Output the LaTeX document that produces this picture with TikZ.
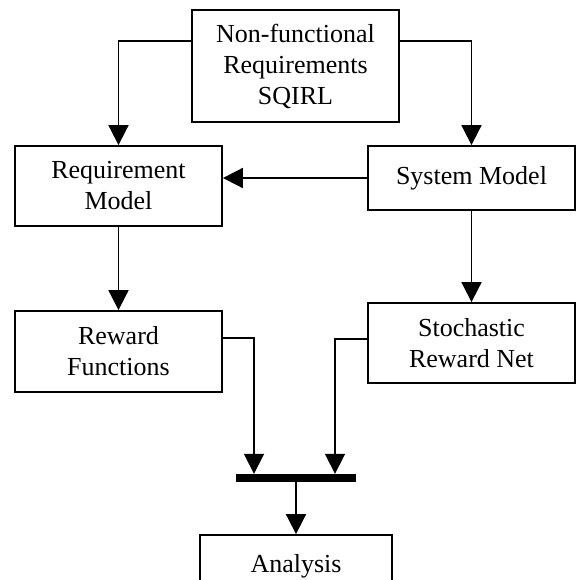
\documentclass[tikz,border=0pt]{standalone}
\usepackage{fontspec}
\setmainfont{Liberation Serif}
\usetikzlibrary{arrows.meta}
\begin{document}
\begin{tikzpicture}[x=1pt,y=-1pt,
  box/.style={draw, line width=1.8pt, rectangle, align=center, inner sep=0pt,
    font=\fontsize{26pt}{31pt}\selectfont},
  arr/.style={line width=1.8pt, -{Triangle[width=20pt,length=20pt]}}]
\clip (0,0) rectangle (576,580);
% boxes
\node[box, minimum width=207pt, minimum height=112pt] (nfr) at (295.5,66) {Non-functional\\Requirements\\SQIRL};
\node[box, minimum width=207pt, minimum height=80pt] (req) at (118.5,186) {Requirement\\Model};
\node[box, minimum width=207pt, minimum height=64pt] (sys) at (471.5,178) {System Model};
\node[box, minimum width=207pt, minimum height=81pt] (rew) at (118.5,351.5) {Reward\\Functions};
\node[box, minimum width=207pt, minimum height=80pt] (srn) at (471.5,343) {Stochastic\\Reward Net};
\node[fill=black, minimum width=120pt, minimum height=8pt, inner sep=0pt] (bar) at (296,478) {};
\node[box, minimum width=192pt, minimum height=62pt] (ana) at (296,566) {Analysis};
% connectors
\draw[arr] ([yshift=25pt]nfr.west) -| (req.north);
\draw[arr] ([yshift=25pt]nfr.east) -| (sys.north);
\draw[arr] (sys.west) -- (sys.west -| req.east);
\draw[arr] (req.south) -- (rew.north);
\draw[arr] (sys.south) -- (srn.north);
\draw[arr] ([yshift=13.5pt]rew.east) -| ([xshift=-42pt]bar.north);
\draw[arr] ([yshift=4pt]srn.west) -| ([xshift=39pt]bar.north);
\draw[arr] (bar.south) -- (ana.north);
\end{tikzpicture}
\end{document}
